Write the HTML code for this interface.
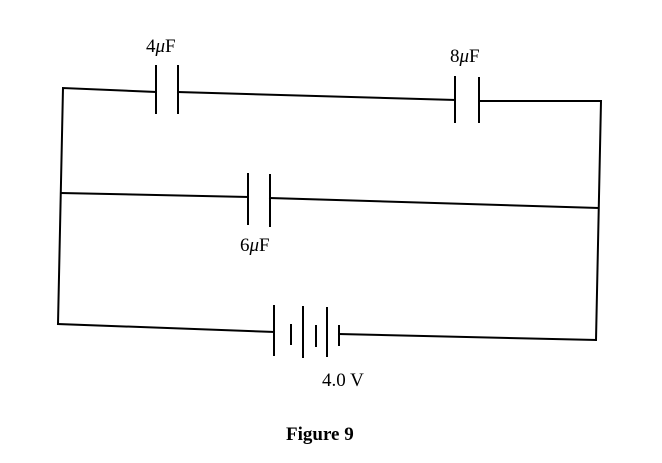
<!DOCTYPE html>
<html><head><style>body{margin:0;background:#fff}</style></head><body>
<svg width="662" height="463" viewBox="0 0 662 463" xmlns="http://www.w3.org/2000/svg" style="display:block">
<g stroke="#000" stroke-width="2" fill="none" stroke-linecap="square">
<polyline points="156,92 63,88 58,324"/>
<line x1="178" y1="92" x2="455" y2="100"/>
<polyline points="479,101 601,101 596,340"/>
<line x1="156" y1="66" x2="156" y2="113"/>
<line x1="178" y1="66" x2="178" y2="113"/>
<line x1="455" y1="77" x2="455" y2="122"/>
<line x1="479" y1="78" x2="479" y2="122"/>
<line x1="61" y1="193" x2="248" y2="197"/>
<line x1="270" y1="198" x2="598" y2="208"/>
<line x1="248" y1="174" x2="248" y2="224"/>
<line x1="270" y1="175" x2="270" y2="226"/>
<line x1="58" y1="324" x2="274" y2="332"/>
<line x1="339" y1="334" x2="596" y2="340"/>
<line x1="274" y1="306" x2="274" y2="355"/>
<line x1="291" y1="325" x2="291" y2="344"/>
<line x1="303" y1="307" x2="303" y2="357"/>
<line x1="316" y1="326" x2="316" y2="346"/>
<line x1="327" y1="308" x2="327" y2="356"/>
<line x1="339" y1="326" x2="339" y2="345"/>
</g>
<g font-family="Liberation Serif, serif" font-size="19" fill="#000">
<text x="146" y="52">4<tspan font-style="italic">μ</tspan>F</text>
<text x="450" y="62">8<tspan font-style="italic">μ</tspan>F</text>
<text x="240" y="251">6<tspan font-style="italic">μ</tspan>F</text>
<text x="322" y="386">4.0 V</text>
<text x="286" y="440" font-weight="bold">Figure 9</text>
</g>
</svg>
</body></html>
